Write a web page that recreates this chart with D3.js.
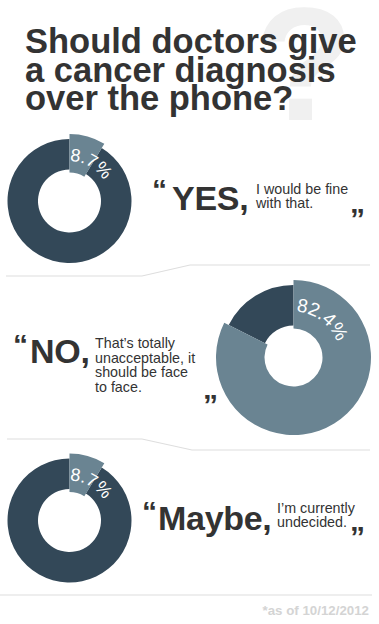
<!DOCTYPE html>
<html><head><meta charset="utf-8">
<script src="https://cdn.jsdelivr.net/npm/d3@7/dist/d3.min.js"></script>
<style>html,body{margin:0;padding:0;background:#fff;}svg{display:block;font-family:"Liberation Sans",Arimo,Arial,sans-serif;}</style>
</head><body>
<script>
// ---- data ----
const titleLines = ["Should doctors give", "a cancer diagnosis", "over the phone?"];
const answers = ["YES,", "NO,", "Maybe,"];
const percents = [8.7, 82.4, 8.7];
const comments = [
  ["I would be fine", "with that."],
  ["That\u2019s totally", "unacceptable, it", "should be face", "to face."],
  ["I\u2019m currently", "undecided."]
];
const footnote = "*as of 10/12/2012";

// ---- layout (not data) ----
const W = 379, H = 624;
const dark = "#334858", light = "#6a8492", ink = "#333333";
const rows = [
  {cx: 69.5, cy: 201, inner: 31.5, outer: 62, pop: 5, lr: 40, lfs: 18, la: 0.5,
   oq: [152, 199.5], word: [172, 210], small: [256, 194], lh: 14, cq: [350, 228.5]},
  {cx: 293.5, cy: 357.5, inner: 32, outer: 72.5, pop: 5, lr: 46, lfs: 19, la: 3.5,
   oq: [13, 354.5], word: [30, 363], small: [95, 348], lh: 14.7, cq: [203, 414.5]},
  {cx: 69.5, cy: 520.5, inner: 31.5, outer: 62, pop: 5, lr: 40, lfs: 18, la: 0.5,
   oq: [142, 521.5], word: [158, 530], small: [277, 513], lh: 14, cq: [350, 546.5]}
];

const svg = d3.select("body").append("svg").attr("width", W).attr("height", H);

// background question mark
svg.append("text").attr("x", 254.5).attr("y", 120).attr("font-size", 162)
  .attr("font-weight", "bold").attr("fill", "#f0f0f0").text("?");

// title
svg.append("g").selectAll("text").data(titleLines).join("text")
  .attr("x", 25).attr("y", (d, i) => 53 + i * 28.5)
  .attr("font-size", 34.5).attr("font-weight", "bold").attr("fill", ink)
  .text(d => d);

// separators
const sepPaths = [
  [[6, 276], [142, 276], [190, 265], [370, 265]],
  [[7, 439], [142, 439], [192, 450], [370, 450]],
  [[0, 595], [372, 595]]
];
svg.append("g").selectAll("path").data(sepPaths).join("path")
  .attr("d", d3.line()).attr("fill", "none").attr("stroke", "#dedede").attr("stroke-width", 1.2);

const pie = d3.pie().sort(null).value(d => d);

rows.forEach((r, i) => {
  const g = svg.append("g").attr("transform", `translate(${r.cx},${r.cy})`);
  const arcs = pie([percents[i], 100 - percents[i]]);
  const arcBase = d3.arc().innerRadius(r.inner).outerRadius(r.outer);
  const arcPop = d3.arc().innerRadius(r.inner - 3).outerRadius(r.outer + r.pop);
  g.append("path").attr("d", arcBase(arcs[1])).attr("fill", dark);
  g.append("path").attr("d", arcPop(arcs[0])).attr("fill", light);

  const rb = r.lr;
  g.append("path").attr("id", "lp" + i)
    .attr("d", `M0,${-rb} A${rb},${rb} 0 1,1 0,${rb} A${rb},${rb} 0 1,1 0,${-rb}`)
    .attr("fill", "none");
  g.append("text").attr("font-size", r.lfs).attr("fill", "#fff")
    .append("textPath").attr("href", "#lp" + i)
    .attr("startOffset", rb * r.la * Math.PI / 180)
    .text(percents[i] + "%");

  svg.append("text").attr("x", r.oq[0]).attr("y", r.oq[1]).attr("font-size", 30)
    .attr("font-weight", "bold").attr("fill", ink).text("\u201C");
  svg.append("text").attr("x", r.word[0]).attr("y", r.word[1]).attr("font-size", 34)
    .attr("font-weight", "bold").attr("fill", ink).attr("letter-spacing", -0.3).text(answers[i]);
  svg.append("g").selectAll("text").data(comments[i]).join("text")
    .attr("x", r.small[0]).attr("y", (d, j) => r.small[1] + j * r.lh)
    .attr("font-size", 14.3).attr("fill", ink).text(d => d);
  svg.append("text").attr("x", r.cq[0]).attr("y", r.cq[1]).attr("font-size", 30)
    .attr("font-weight", "bold").attr("fill", ink).text("\u201D");
});

svg.append("text").attr("x", 369).attr("y", 615).attr("text-anchor", "end")
  .attr("font-size", 13.3).attr("font-weight", "bold").attr("fill", "#d4d4d4").text(footnote);
</script>
</body></html>
